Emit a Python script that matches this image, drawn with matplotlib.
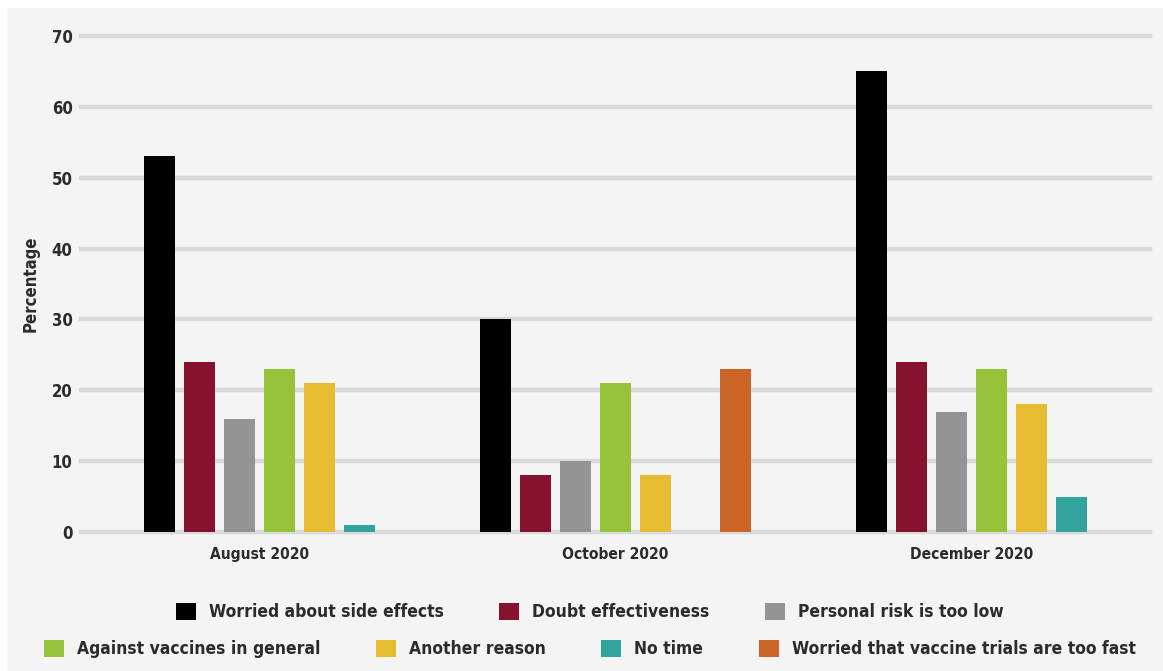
import matplotlib.pyplot as plt
from matplotlib.patches import Rectangle, Patch

plt.rcParams['font.family'] = ['DejaVu Sans']
plt.rcParams['font.stretch'] = 'condensed'
plt.rcParams['font.weight'] = 'bold'

categories = ['August 2020', 'October 2020', 'December 2020']
reasons = ['Worried about side effects', 'Doubt effectiveness', 'Personal risk is too low',
           'Against vaccines in general', 'Another reason', 'No time',
           'Worried that vaccine trials are too fast']
colors = ['#000000', '#87122d', '#949494', '#97c33b', '#e6bd31', '#33a39e', '#cc6428']

# None = reason not asked in that wave (no slot in the group)
side_effects = [53, 30, 65]
effectiveness = [24, 8, 24]
risk_low = [16, 10, 17]
against_vaccines = [23, 21, 23]
another_reason = [21, 8, 18]
no_time = [1, 0, 5]
trials_fast = [None, 23, None]
series = [side_effects, effectiveness, risk_low, against_vaccines,
          another_reason, no_time, trials_fast]

text_color = '#2b2b2b'
W, H = 1163, 671
fig = plt.figure(figsize=(W / 100, H / 100), dpi=100, facecolor='white')
fig.patches.append(Rectangle((7 / W, 0), 1, (H - 8) / H, transform=fig.transFigure,
                             facecolor='#f4f4f4', edgecolor='none', zorder=-10))

ax = fig.add_axes([81 / W, (H - 532) / H, (1150 - 81) / W, (532 - 36) / H])
ax.set_facecolor('none')

step = 0.1124
width = 0.087
for ci in range(len(categories)):
    present = [si for si in range(len(series)) if series[si][ci] is not None]
    n = len(present)
    for k, si in enumerate(present):
        x = ci + (k - (n - 1) / 2) * step
        ax.bar(x, series[si][ci], width=width, color=colors[si], zorder=3)

ax.set_xlim(-0.5, 2.5)
ax.set_ylim(0, 70)
ax.set_yticks(range(0, 71, 10))
ax.set_xticks(range(len(categories)))
ax.set_xticklabels(categories)
ax.yaxis.grid(True, color='#d9d9d9', linewidth=3.2, zorder=0)
for line in ax.get_ygridlines():
    line.set_clip_on(False)
for s in ax.spines.values():
    s.set_visible(False)
ax.tick_params(axis='y', length=0, pad=6, labelsize=12, labelcolor=text_color)
ax.tick_params(axis='x', length=0, pad=11, labelsize=11.2, labelcolor=text_color)
ax.set_ylabel('Percentage', fontsize=12, color=text_color, fontweight='bold')
ax.yaxis.set_label_coords(-0.039, 0.5)

handles = [Patch(facecolor=c, edgecolor='none') for c in colors]
common = dict(frameon=False, fontsize=12.5, handlelength=1.15, handleheight=1.15,
              handletextpad=0.75, columnspacing=3.2, labelcolor=text_color,
              borderpad=0, borderaxespad=0)
leg1 = fig.legend(handles[:3], reasons[:3], ncol=3, loc='center',
                  bbox_to_anchor=(590 / W, (H - 612) / H), **common)
leg2 = fig.legend(handles[3:], reasons[3:], ncol=4, loc='center',
                  bbox_to_anchor=(590 / W, (H - 649) / H), **common)

fig.savefig('out.png', dpi=100, facecolor=fig.get_facecolor())
